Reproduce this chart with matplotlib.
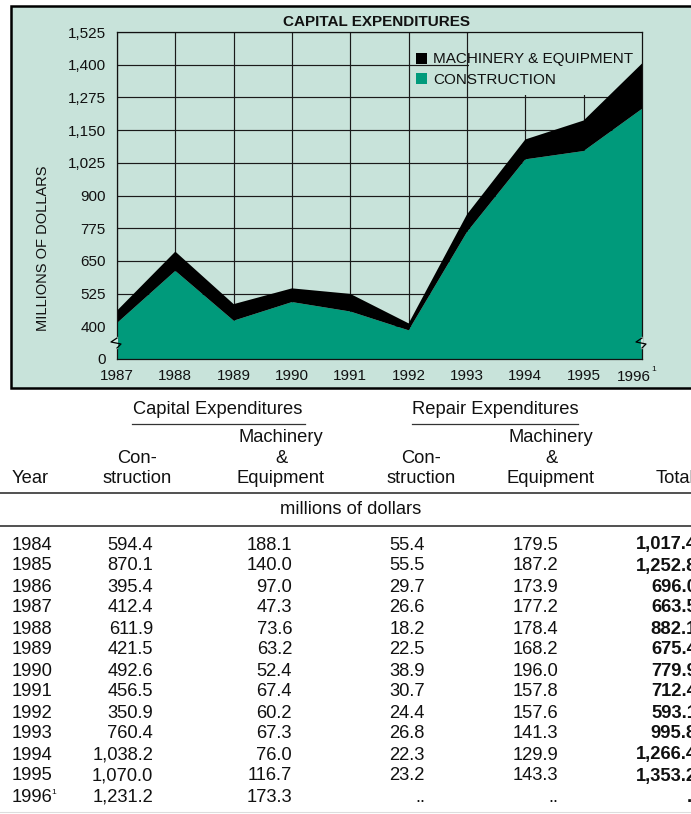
import numpy as np
import matplotlib
matplotlib.use('Agg')
import matplotlib.pyplot as plt
from matplotlib.patches import Rectangle, Patch
from matplotlib.lines import Line2D

plt.rcParams['font.family'] = ['Liberation Sans', 'DejaVu Sans']

# ---------------- data ----------------
table_years = ['1984', '1985', '1986', '1987', '1988', '1989', '1990',
               '1991', '1992', '1993', '1994', '1995', '1996']
capital_construction = [594.4, 870.1, 395.4, 412.4, 611.9, 421.5, 492.6,
                        456.5, 350.9, 760.4, 1038.2, 1070.0, 1231.2]
capital_machinery = [188.1, 140.0, 97.0, 47.3, 73.6, 63.2, 52.4,
                     67.4, 60.2, 67.3, 76.0, 116.7, 173.3]
repair_construction = [55.4, 55.5, 29.7, 26.6, 18.2, 22.5, 38.9,
                       30.7, 24.4, 26.8, 22.3, 23.2, None]
repair_machinery = [179.5, 187.2, 173.9, 177.2, 178.4, 168.2, 196.0,
                    157.8, 157.6, 141.3, 129.9, 143.3, None]
totals = [1017.4, 1252.8, 696.0, 663.5, 882.1, 675.4, 779.9,
          712.4, 593.1, 995.8, 1266.4, 1353.2, None]

chart_years = [1987, 1988, 1989, 1990, 1991, 1992, 1993, 1994, 1995, 1996]
chart_construction = capital_construction[3:]
chart_machinery = capital_machinery[3:]
y_ticks = [0, 400, 525, 650, 775, 900, 1025, 1150, 1275, 1400, 1525]
y_tick_labels = ['0', '400', '525', '650', '775', '900', '1,025', '1,150',
                 '1,275', '1,400', '1,525']
legend_labels = ['MACHINERY & EQUIPMENT', 'CONSTRUCTION']

# ---------------- styling ----------------
W, H = 691, 814
BG = '#C8E3DA'
GREEN = '#009A7B'
TXT = '#111111'

fig = plt.figure(figsize=(W / 100, H / 100), dpi=100)
fig.patch.set_facecolor('white')


def fx(px):
    return px / W


def fy(py):
    return 1 - py / H


# chart panel
panel = Rectangle((fx(11), fy(388)), fx(705) - fx(11), fy(6) - fy(388),
                  transform=fig.transFigure, facecolor=BG, edgecolor='black',
                  linewidth=1.8, zorder=-5)
fig.patches.append(panel)

ax = fig.add_axes([fx(117), fy(359), fx(642) - fx(117), fy(32) - fy(359)])
ax.set_zorder(1)
ax.set_facecolor(BG)


def fwd(v):
    v = np.asarray(v, dtype=float)
    return np.where(v < 400, 275 + v * 125.0 / 400.0, v)


def inv(t):
    t = np.asarray(t, dtype=float)
    return np.where(t < 400, (t - 275) * 400.0 / 125.0, t)


ax.set_yscale('function', functions=(fwd, inv))
ax.stackplot(chart_years, chart_construction, chart_machinery,
             colors=[GREEN, 'black'], linewidth=0, zorder=2)
ax.set_xlim(1987, 1996)
ax.set_ylim(0, 1525)
ax.set_yticks(y_ticks)
ax.set_yticklabels(y_tick_labels)
ax.set_xticks(chart_years)
ax.set_xticklabels([str(y) for y in chart_years[:-1]] + [''])
ax.minorticks_off()
ax.grid(True, color='#1a1a1a', linewidth=0.85)
ax.set_axisbelow(True)
ax.tick_params(length=0, labelsize=11, colors=TXT)
ax.tick_params(axis='y', pad=8)
ax.tick_params(axis='x', pad=7)
for s in ax.spines.values():
    s.set_color('#111111')
    s.set_linewidth(0.9)
    s.set_zorder(3)

# background behind the legend (hides grid)
ax.add_patch(Rectangle((1993.03, 1284), 2.97, 241, facecolor=BG,
                       edgecolor='none', zorder=0.8))

# 1996 label with footnote mark
ax.annotate('1996', xy=(1996, 0), xycoords=('data', 'axes fraction'),
            xytext=(-8, -18), textcoords='offset pixels', ha='center',
            va='center', fontsize=11, color=TXT, annotation_clip=False)
ax.annotate('1', xy=(1996, 0), xycoords=('data', 'axes fraction'),
            xytext=(12, -11), textcoords='offset pixels', ha='center',
            va='center', fontsize=6, color=TXT, annotation_clip=False)

handles = [Patch(facecolor='black', linewidth=0), Patch(facecolor=GREEN, linewidth=0)]
ax.legend(handles, legend_labels, loc='upper left',
          bbox_to_anchor=(fx(416), fy(52.5)), bbox_transform=fig.transFigure,
          frameon=False, borderpad=0, borderaxespad=0, handlelength=0.75,
          handleheight=0.75, handletextpad=0.35, labelspacing=0.42,
          fontsize=11, labelcolor=TXT)


# axis break marks
def break_mark(xp, yp):
    fig.add_artist(Line2D([fx(xp), fx(xp)], [fy(yp - 5), fy(yp + 5)],
                          transform=fig.transFigure, color=BG, linewidth=1.6,
                          zorder=5))
    pts = [(0, -5), (-6, -1), (4, 1), (0, 5)]
    fig.add_artist(Line2D([fx(xp + dx) for dx, dy in pts],
                          [fy(yp + dy) for dx, dy in pts],
                          transform=fig.transFigure, color='black',
                          linewidth=0.9, zorder=6))


break_mark(117, 343)
break_mark(642, 343)

fig.text(fx(376.5), fy(22.5), 'CAPITAL EXPENDITURES', weight='bold',
         fontsize=11, ha='center', va='center', color=TXT)
fig.text(fx(43), fy(248), 'MILLIONS OF DOLLARS', rotation=90, ha='center',
         va='center', fontsize=10.5, color=TXT)

# ---------------- table ----------------
FS = 13.2


def t(xp, yp, s, ha='left', **kw):
    fig.text(fx(xp), fy(yp), s, ha=ha, va='center', fontsize=FS, color=TXT, **kw)


t(218, 410, 'Capital Expenditures', ha='center')
t(495, 410, 'Repair Expenditures', ha='center')
fig.add_artist(Line2D([fx(132), fx(305)], [fy(424), fy(424)],
                      transform=fig.transFigure, color='#333333', linewidth=0.9))
fig.add_artist(Line2D([fx(412), fx(578)], [fy(424), fy(424)],
                      transform=fig.transFigure, color='#333333', linewidth=0.9))

t(281, 438, 'Machinery', ha='center')
t(551, 438, 'Machinery', ha='center')
t(137.5, 458, 'Con-', ha='center')
t(281, 458, '&', ha='center')
t(421, 458, 'Con-', ha='center')
t(551, 458, '&', ha='center')
t(12, 479, 'Year')
t(137.5, 479, 'struction', ha='center')
t(281, 479, 'Equipment', ha='center')
t(421, 479, 'struction', ha='center')
t(551, 479, 'Equipment', ha='center')
t(656, 479, 'Total')

for yy in (493, 526):
    fig.add_artist(Line2D([0, 1], [fy(yy), fy(yy)], transform=fig.transFigure,
                          color='#222222', linewidth=1.1))
fig.add_artist(Line2D([0, 1], [fy(812), fy(812)], transform=fig.transFigure,
                      color='#dddddd', linewidth=0.8))

t(350.8, 510, 'millions of dollars', ha='center')


def fmt(v):
    return '..' if v is None else f'{v:,.1f}'


for i, yr in enumerate(table_years):
    yp = 545 + i * 21
    t(12, yp, yr)
    if yr == '1996':
        fig.text(fx(51.5), fy(yp - 5), '1', ha='left', va='center',
                 fontsize=6, color=TXT)
    t(153, yp, fmt(capital_construction[i]), ha='right')
    t(292, yp, fmt(capital_machinery[i]), ha='right')
    t(425, yp, fmt(repair_construction[i]), ha='right')
    t(558, yp, fmt(repair_machinery[i]), ha='right')
    t(697, yp, fmt(totals[i]), ha='right', weight='bold')

fig.savefig('out.png', dpi=100, facecolor='white')
